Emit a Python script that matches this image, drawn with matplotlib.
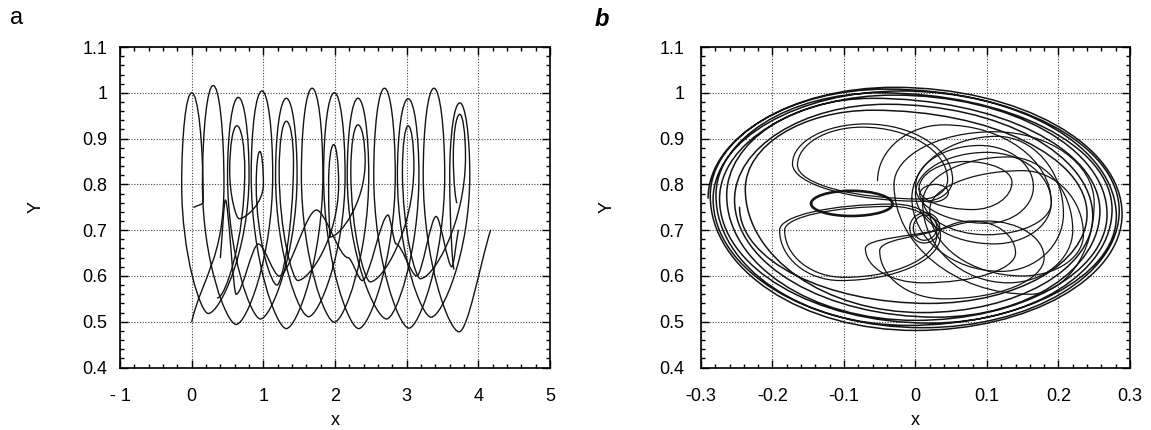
import matplotlib
matplotlib.use("Agg")
import matplotlib.pyplot as plt
from matplotlib.path import Path
from matplotlib.patches import PathPatch
from matplotlib.ticker import MultipleLocator, FixedLocator, FixedFormatter

plt.rcParams['font.family'] = ['Liberation Sans', 'DejaVu Sans']

# vertices: (x, y, tangent)
# 'h' = horizontal tangent (round top/bottom), 't' = horizontal but tight (narrow U / peak),
# 'v' = vertical tangent (side of a loop), 'p' = corner / free end
a_big1 = [
    (0.03, 0.750, 'p'), (0.16, 0.762, 'v'), (0.00, 1.000, 'h'), (-0.14, 0.800, 'v'),
    (0.23, 0.518, 't'), (0.80, 0.820, 'v'), (0.65, 0.990, 'h'), (0.50, 0.820, 'v'),
    (0.96, 0.506, 't'), (1.47, 0.820, 'v'), (1.32, 0.988, 'h'), (1.17, 0.820, 'v'),
    (1.63, 0.511, 't'), (2.14, 0.820, 'v'), (1.99, 1.000, 'h'), (1.84, 0.820, 'v'),
    (2.33, 0.485, 't'), (2.84, 0.820, 'v'), (2.69, 1.010, 'h'), (2.54, 0.820, 'v'),
    (3.03, 0.486, 't'), (3.53, 0.820, 'v'), (3.38, 1.010, 'h'), (3.23, 0.820, 'v'),
    (3.73, 0.478, 't'), (4.17, 0.700, 'p'),
]
a_big2 = [
    (0.00, 0.500, 'p'), (0.45, 0.800, 'v'), (0.30, 1.016, 'h'), (0.15, 0.800, 'v'),
    (0.62, 0.494, 't'), (1.13, 0.820, 'v'), (0.98, 1.004, 'h'), (0.83, 0.820, 'v'),
    (1.32, 0.485, 't'), (1.83, 0.820, 'v'), (1.68, 1.010, 'h'), (1.53, 0.820, 'v'),
    (1.99, 0.499, 't'), (2.47, 0.820, 'v'), (2.32, 0.988, 'h'), (2.17, 0.820, 'v'),
    (2.72, 0.506, 't'), (3.17, 0.820, 'v'), (3.02, 0.987, 'h'), (2.87, 0.820, 'v'),
    (3.34, 0.510, 't'), (3.88, 0.820, 'v'), (3.74, 0.978, 'h'), (3.60, 0.820, 'v'),
    (3.66, 0.615, 't'),
]
a_inner = [
    (0.36, 0.552, 't'), (0.74, 0.830, 'v'), (0.63, 0.928, 'h'), (0.53, 0.830, 'v'),
    (0.66, 0.725, 't'), (1.00, 0.800, 'v'), (0.95, 0.872, 'h'), (0.90, 0.800, 'v'),
    (1.19, 0.580, 't'), (1.42, 0.850, 'v'), (1.32, 0.938, 'h'), (1.22, 0.830, 'v'),
    (1.48, 0.590, 't'), (2.05, 0.800, 'v'), (1.98, 0.887, 'h'), (1.91, 0.800, 'v'),
    (1.93, 0.685, 't'), (2.42, 0.850, 'v'), (2.32, 0.930, 'h'), (2.22, 0.830, 'v'),
    (2.49, 0.587, 't'), (3.10, 0.840, 'v'), (3.02, 0.928, 'h'), (2.94, 0.830, 'v'),
    (3.19, 0.594, 't'), (3.82, 0.860, 'v'), (3.74, 0.953, 'h'), (3.65, 0.860, 'v'),
    (3.70, 0.760, 't'),
]
a_cusp = [
    (0.40, 0.640, 'p'), (0.47, 0.766, 't'), (0.62, 0.560, 't'), (0.93, 0.670, 't'),
    (1.22, 0.600, 't'), (1.74, 0.744, 't'), (2.18, 0.640, 't'), (2.38, 0.590, 't'),
    (2.74, 0.733, 't'), (2.85, 0.670, 't'), (3.14, 0.600, 't'), (3.41, 0.730, 't'),
    (3.63, 0.620, 't'), (3.72, 0.700, 'p'),
]

b_outer = [
    (-0.290, 0.770, 'v'), (-0.030, 1.012, 'h'), (0.289, 0.735, 'v'), (0.000, 0.481, 'h'),
    (-0.287, 0.775, 'v'), (-0.040, 1.008, 'h'), (0.285, 0.742, 'v'), (0.010, 0.487, 'h'),
    (-0.283, 0.768, 'v'), (-0.020, 1.004, 'h'), (0.281, 0.730, 'v'), (-0.010, 0.492, 'h'),
    (-0.279, 0.776, 'v'), (-0.050, 1.000, 'h'), (0.275, 0.745, 'v'), (0.020, 0.497, 'h'),
    (-0.274, 0.768, 'v'), (-0.030, 0.995, 'h'), (0.268, 0.735, 'v'), (0.000, 0.503, 'h'),
    (-0.264, 0.776, 'v'), (-0.060, 0.988, 'h'), (0.258, 0.742, 'v'), (0.030, 0.510, 'h'),
    (-0.253, 0.766, 'v'), (-0.040, 0.975, 'h'), (0.248, 0.730, 'v'), (0.010, 0.520, 'h'),
    (-0.238, 0.790, 'v'), (-0.060, 0.962, 'h'), (0.240, 0.735, 'v'), (0.020, 0.540, 'h'),
    (-0.246, 0.750, 'v'),
]
b_petal_ul = [(-0.172, 0.845, 'v'), (-0.070, 0.932, 'h'), (0.052, 0.810, 'v'),
              (0.012, 0.763, 'h'), (-0.172, 0.845, 'v')]
b_petal_ul2 = [(-0.165, 0.842, 'v'), (-0.075, 0.925, 'h'), (0.045, 0.810, 'v'),
               (0.010, 0.768, 'h'), (-0.165, 0.842, 'v')]
b_petal_ll = [(-0.190, 0.700, 'v'), (-0.105, 0.590, 'h'), (0.035, 0.688, 'v'),
              (-0.030, 0.757, 'h'), (-0.190, 0.700, 'v')]
b_petal_ll2 = [(-0.183, 0.700, 'v'), (-0.100, 0.597, 'h'), (0.030, 0.690, 'v'),
               (-0.032, 0.752, 'h'), (-0.183, 0.700, 'v')]
b_bold = [(-0.146, 0.758, 'v'), (-0.090, 0.786, 'h'), (-0.032, 0.757, 'v'),
          (-0.090, 0.731, 'h'), (-0.146, 0.758, 'v')]
b_small = [(-0.008, 0.705, 'v'), (0.014, 0.738, 'h'), (0.034, 0.705, 'v'),
           (0.012, 0.672, 'h'), (-0.008, 0.705, 'v')]
b_small2 = [(-0.003, 0.705, 'v'), (0.014, 0.733, 'h'), (0.030, 0.705, 'v'),
            (0.012, 0.678, 'h'), (-0.003, 0.705, 'v')]
b_curl = [(0.006, 0.778, 'v'), (0.028, 0.800, 'h'), (0.046, 0.782, 'v'),
          (0.022, 0.761, 'h'), (0.006, 0.778, 'v')]
b_petal_ur = [(-0.053, 0.808, 'v'), (0.040, 0.930, 'h'), (0.190, 0.760, 'v'),
              (0.100, 0.690, 'h'), (0.010, 0.770, 'v')]
b_petal_low = [(0.030, 0.700, 'p'), (-0.070, 0.660, 'v'), (0.010, 0.585, 'h'),
               (0.140, 0.650, 'v'), (0.080, 0.720, 'h'), (0.030, 0.700, 'p')]
b_petal_low2 = [(0.030, 0.700, 'p'), (-0.050, 0.655, 'v'), (0.040, 0.550, 'h'),
                (0.180, 0.640, 'v'), (0.100, 0.720, 'h'), (0.030, 0.700, 'p')]
# right-hand nested lobes wrapped round the centre curl: left side, top, right side, bottom
b_lobe_left = [(0.005, 0.790), (0.000, 0.795), (0.000, 0.780), (-0.005, 0.770),
               (0.010, 0.760), (0.020, 0.745), (-0.030, 0.800)]
b_lobe_top = [(0.070, 0.850), (0.090, 0.885), (0.100, 0.870), (0.114, 0.905),
              (0.130, 0.860), (0.150, 0.830), (0.110, 0.915)]
b_lobe_right = [(0.135, 0.805), (0.165, 0.795), (0.190, 0.760), (0.207, 0.736),
                (0.220, 0.700), (0.235, 0.690), (0.250, 0.760)]
b_lobe_bottom = [(0.080, 0.745), (0.100, 0.715), (0.110, 0.670), (0.120, 0.610),
                 (0.130, 0.585), (0.150, 0.600), (0.160, 0.560)]

a_xticklabels = ['- 1', '0', '1', '2', '3', '4', '5']
b_xticklabels = ['-0.3', '-0.2', '-0.1', '0', '0.1', '0.2', '0.3']
yticklabels = ['0.4', '0.5', '0.6', '0.7', '0.8', '0.9', '1', '1.1']

HANDLE = {'h': 0.55, 'v': 0.55, 't': 0.28}


def traj_path(pts):
    verts = [(pts[0][0], pts[0][1])]
    codes = [Path.MOVETO]
    for (x0, y0, t0), (x1, y1, t1) in zip(pts[:-1], pts[1:]):
        dx, dy = x1 - x0, y1 - y0
        if t0 in ('h', 't'):
            c1 = (x0 + HANDLE[t0] * dx, y0)
        elif t0 == 'v':
            c1 = (x0, y0 + HANDLE[t0] * dy)
        else:
            c1 = (x0 + dx / 3, y0 + dy / 3)
        if t1 in ('h', 't'):
            c2 = (x1 - HANDLE[t1] * dx, y1)
        elif t1 == 'v':
            c2 = (x1, y1 - HANDLE[t1] * dy)
        else:
            c2 = (x1 - dx / 3, y1 - dy / 3)
        verts += [c1, c2, (x1, y1)]
        codes += [Path.CURVE4] * 3
    return Path(verts, codes)


def draw(ax, pts, lw=1.0):
    ax.add_patch(PathPatch(traj_path(pts), fill=False, lw=lw, ec='#141414',
                           capstyle='round', joinstyle='round', zorder=3))


def style(ax, xlim, xmaj, xmin, xlabels, ypad, ylabelpad):
    ax.set_xlim(*xlim)
    ax.set_ylim(0.4, 1.1)
    xt = [xlim[0] + i * xmaj for i in range(len(xlabels))]
    ax.xaxis.set_major_locator(FixedLocator(xt))
    ax.xaxis.set_major_formatter(FixedFormatter(xlabels))
    ax.xaxis.set_minor_locator(MultipleLocator(xmin))
    ax.yaxis.set_major_locator(FixedLocator([0.4 + 0.1 * i for i in range(8)]))
    ax.yaxis.set_major_formatter(FixedFormatter(yticklabels))
    ax.yaxis.set_minor_locator(MultipleLocator(0.02))
    ax.tick_params(which='both', direction='in', top=True, right=True, width=1.0)
    ax.tick_params(which='major', length=6, labelsize=13)
    ax.tick_params(which='minor', length=3)
    ax.tick_params(axis='x', pad=15)
    ax.tick_params(axis='y', pad=ypad)
    ax.grid(True, which='major', ls=(0, (1, 1.5)), color='#444444', lw=0.8)
    for s in ax.spines.values():
        s.set_linewidth(1.2)
    ax.set_xlabel('x', fontsize=13, labelpad=5)
    ax.set_ylabel('Y', fontsize=13, labelpad=ylabelpad)


fig = plt.figure(figsize=(11.51, 4.30), dpi=100)
ax1 = fig.add_axes([0.1043, 0.1453, 0.3736, 0.7453])
ax2 = fig.add_axes([0.6090, 0.1453, 0.3727, 0.7453])

style(ax1, (-1, 5), 1, 0.2, a_xticklabels, 9, 27)
style(ax2, (-0.3, 0.3), 0.1, 0.02, b_xticklabels, 12, 31)

for c in (a_big1, a_big2, a_inner, a_cusp):
    draw(ax1, c)

draw(ax2, b_outer, lw=1.1)
for c in (b_petal_ul, b_petal_ul2, b_petal_ll, b_petal_ll2, b_small, b_small2,
          b_curl, b_petal_ur, b_petal_low, b_petal_low2):
    draw(ax2, c, lw=0.9)
draw(ax2, b_bold, lw=1.9)
for (lx, ly), (tx, ty), (rx, ry), (bx, by) in zip(b_lobe_left, b_lobe_top,
                                                  b_lobe_right, b_lobe_bottom):
    draw(ax2, [(lx, ly, 'v'), (tx, ty, 'h'), (rx, ry, 'v'), (bx, by, 'h'), (lx, ly, 'v')], lw=0.9)

fig.text(0.009, 0.945, 'a', fontsize=17)
fig.text(0.517, 0.94, 'b', fontsize=17, style='italic', weight='bold')

fig.savefig('out.png', dpi=100)
